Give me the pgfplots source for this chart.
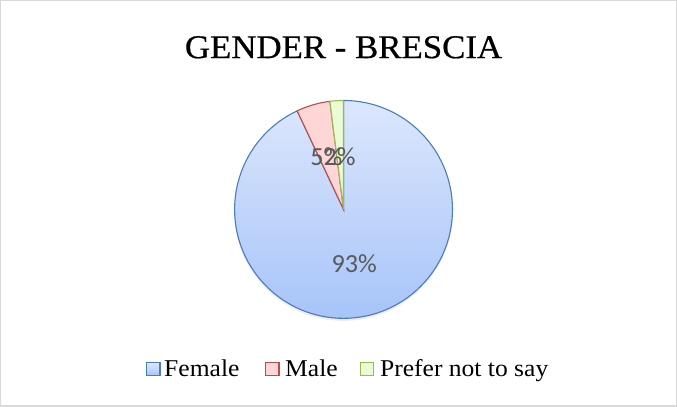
\documentclass[border=0pt]{standalone}
\usepackage{pgfplots}
\pgfplotsset{compat=1.18}
\usepackage{fontspec}
\setmainfont{Liberation Serif}
\newfontfamily\titlefont[FakeStretch=1.05,FakeBold=0.6]{Liberation Serif}
\newfontfamily\lblfont{Carlito}
\definecolor{femB}{HTML}{4A7EBB}
\definecolor{femT}{HTML}{DCE7FC}
\definecolor{femBot}{HTML}{A7C4F9}
\definecolor{malB}{HTML}{BE4B48}
\definecolor{malF}{HTML}{FFD6D6}
\definecolor{preB}{HTML}{98B954}
\definecolor{preF}{HTML}{EBFBD4}
\definecolor{lblC}{HTML}{595959}
\begin{document}
\begin{tikzpicture}
\begin{axis}[
  x=1bp, y=-1bp,
  xmin=0, xmax=677, ymin=0, ymax=409,
  hide axis, scale only axis,
  clip=false,
]
% frame
\draw[color=black!15, line width=1.2bp] (axis cs:5,5) rectangle (axis cs:675,407);
% title
\node[anchor=base, font=\titlefont\fontsize{33}{36}\selectfont] at (axis cs:345,62) {GENDER - BRESCIA};
% shadow
\fill[black!7] (axis cs:345,214) circle[radius=108.5bp];
% slices: Female 93, Male 5, Prefer not to say 2 (percent, clockwise from top)
\shade[top color=femT, bottom color=femBot] (axis cs:345,212) -- ++(90:108bp) arc[start angle=90, end angle={90-3.6*93}, radius=108bp] -- cycle;
\draw[femB, line width=1.1bp] (axis cs:345,212) -- ++(90:108bp) arc[start angle=90, end angle={90-3.6*93}, radius=108bp] -- cycle;
\filldraw[fill=malF, draw=malB, line width=1.1bp] (axis cs:345,212) -- ++({90-3.6*93}:108bp) arc[start angle={90-3.6*93}, end angle={90-3.6*98}, radius=108bp] -- cycle;
\filldraw[fill=preF, draw=preB, line width=1.1bp] (axis cs:345,212) -- ++({90-3.6*98}:108bp) arc[start angle={90-3.6*98}, end angle={90-3.6*100}, radius=108bp] -- cycle;
% data labels
\node[text=lblC, font=\lblfont\fontsize{26}{28}\selectfont] at (axis cs:355.5,266) {93\%};
\node[text=lblC, font=\lblfont\fontsize{26}{28}\selectfont] at (axis cs:328,160) {5\%};
\node[text=lblC, font=\lblfont\fontsize{26}{28}\selectfont] at (axis cs:341,160) {2\%};
% legend
\shade[top color=femT, bottom color=femBot] (axis cs:150,364) rectangle (axis cs:163,377);
\draw[femB, line width=1.1bp] (axis cs:150,364) rectangle (axis cs:163,377);
\node[anchor=base west, inner sep=0pt, font=\fontsize{24}{26}\selectfont\addfontfeature{FakeStretch=1.06}] at (axis cs:167,378) {Female};
\filldraw[fill=malF, draw=malB, line width=1.1bp] (axis cs:268,364) rectangle (axis cs:281,377);
\node[anchor=base west, inner sep=0pt, font=\fontsize{24}{26}\selectfont\addfontfeature{FakeStretch=1.06}] at (axis cs:287,378) {Male};
\filldraw[fill=preF, draw=preB, line width=1.1bp] (axis cs:362,364) rectangle (axis cs:375,377);
\node[anchor=base west, inner sep=0pt, font=\fontsize{24}{26}\selectfont\addfontfeature{FakeStretch=1.06}] at (axis cs:381,378) {Prefer not to say};
\end{axis}
\end{tikzpicture}
\end{document}
